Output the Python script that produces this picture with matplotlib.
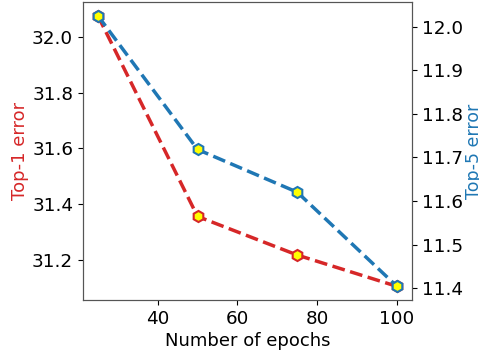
import numpy as np
import matplotlib
matplotlib.use("Agg")
import matplotlib.pyplot as plt

epochs = [25, 50, 75, 100]
top1 = [32.075, 31.357, 31.219, 31.107]
top5 = [12.025, 11.718, 11.620, 11.404]

plt.rcParams['font.size'] = 13

fig, ax1 = plt.subplots(figsize=(4.79, 3.52), dpi=100)
ax1.plot(epochs, top1, '--', color='tab:red', linewidth=2.5, marker='h',
         markersize=8, markerfacecolor='yellow', markeredgecolor='tab:red', markeredgewidth=1.5)
ax1.set_xlabel('Number of epochs', fontsize=13, labelpad=3)
ax1.set_ylabel('Top-1 error', color='tab:red', fontsize=13)
ax1.yaxis.set_label_coords(-0.165, 0.5)

ax2 = ax1.twinx()
ax2.plot(epochs, top5, '--', color='tab:blue', linewidth=2.5, marker='h',
         markersize=8, markerfacecolor='yellow', markeredgecolor='tab:blue', markeredgewidth=1.5)
ax2.set_ylabel('Top-5 error', color='tab:blue', fontsize=12.5)
ax2.yaxis.set_label_coords(1.16, 0.5)

for ax in (ax1, ax2):
    ax.tick_params(labelsize=13.2)
    for s in ax.spines.values():
        s.set_color('#555555')

fig.subplots_adjust(left=0.173, right=0.860, top=0.994, bottom=0.148)
fig.savefig('out.png')
